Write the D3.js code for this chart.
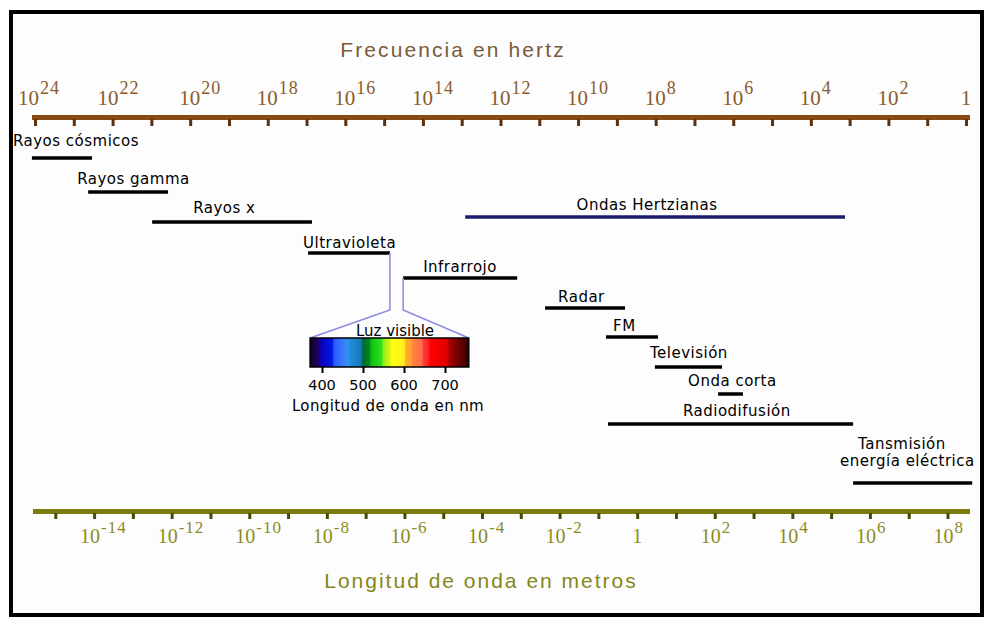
<!DOCTYPE html>
<html>
<head>
<meta charset="utf-8">
<script src="https://cdn.jsdelivr.net/npm/d3@7"></script>
<style>
  body { margin: 0; background: #fff; }
  svg { display: block; }
  .band { font-family: "DejaVu Sans", sans-serif; font-size: 15px; letter-spacing: 0.5px; fill: #000; }
  .small { font-family: "DejaVu Sans", sans-serif; font-size: 14.5px; fill: #000; }
  .expo { font-family: "Liberation Serif", serif; }
</style>
</head>
<body>
<div id="chart"></div>
<script>
// Frequency axis, in log10 of hertz
let freqTicks = [24, 23, 22, 21, 20, 19, 18, 17, 16, 15, 14, 13, 12, 11, 10, 9, 8, 7, 6, 5, 4, 3, 2, 1, 0];
let freqLabels = [24, 22, 20, 18, 16, 14, 12, 10, 8, 6, 4, 2, 0];

// Wavelength axis, in log10 of metres
let waveTicks = [-15, -14, -13, -12, -11, -10, -9, -8, -7, -6, -5, -4, -3, -2, -1, 0, 1, 2, 3, 4, 5, 6, 7, 8];
let waveLabels = [-14, -12, -10, -8, -6, -4, -2, 0, 2, 4, 6, 8];

// Bands of the spectrum, from / to in log10 Hz
let bandNames = ["Rayos cósmicos", "Rayos gamma", "Rayos x", "Ultravioleta", "Infrarrojo",
    "Ondas Hertzianas", "Radar", "FM", "Televisión", "Onda corta", "Radiodifusión",
    "Tansmisión|energía eléctrica"];
let bandFrom = [24.08, 22.63, 20.98, 16.96, 14.51, 12.91, 10.85, 9.28, 8.02, 6.39, 9.23, 2.91];
let bandTo = [22.53, 20.57, 16.86, 14.85, 11.57, 3.12, 8.79, 7.94, 6.29, 5.75, 2.91, -0.16];

// Visible light inset, in nm
let visibleTicks = [400, 500, 600, 700];
let visibleRange = [371, 758];
let spectrumNm = [371, 390, 396, 425, 430, 462, 468, 495, 500, 516, 520, 545, 550, 565, 570, 600, 605, 618, 622, 643, 647, 660, 665, 705, 712, 740, 758];
let spectrumColors = ["#14002a", "#200060", "#0a00b0", "#0018f0", "#2a5cff", "#3c8cf8", "#1e90d8", "#1878b8",
    "#006a30", "#008a20", "#10c010", "#30e020", "#90f010", "#d8f020", "#ffff10", "#ffee20",
    "#ffb020", "#ffa030", "#ff8040", "#ff7048", "#ff4040", "#ff2020", "#ff0000", "#e00000",
    "#a00000", "#600000", "#300000"];

// Layout of each band: bar row, label offset and baseline offset
let barRows = [158, 192, 222, 253, 278, 217, 308, 337, 367, 394, 424, 483];
let labelDx = [-19, -11, 41, -5, 20, 0, 13, 7, -5, -30, 75, 5];
let labelDy = [-12, -8, -9, -5, -6, -7, -6, -6, -9, -8, -8, -34];

let width = 984,
    height = 617;

let svg = d3.select("#chart").append("svg")
    .attr("width", width)
    .attr("height", height);

// Outer frame
svg.append("rect")
    .attr("x", 11).attr("y", 12)
    .attr("width", 971).attr("height", 603)
    .attr("fill", "#fdfdfd")
    .attr("stroke", "#000")
    .attr("stroke-width", 4);

// Scales: frequency (log10 Hz) and wavelength (log10 m) share the same pixels
let fx = d3.scaleLinear().domain([24, 0]).range([35, 966]);
let logC = Math.log10(2.998e8);
let wx = d3.scaleLinear().domain([logC - 24, logC]).range([35, 966]);

// ---- Top axis ----
let brown = "#8a4a14";
svg.append("text")
    .attr("x", 453).attr("y", 57)
    .attr("text-anchor", "middle")
    .style("font-family", "Liberation Sans, sans-serif")
    .style("font-size", "21px")
    .style("letter-spacing", "2.1px")
    .attr("fill", "#7a5a3a")
    .text("Frecuencia en hertz");

svg.append("line")
    .attr("x1", 32).attr("x2", 970)
    .attr("y1", 117.5).attr("y2", 117.5)
    .attr("stroke", brown)
    .attr("stroke-width", 5);

let topAxis = svg.append("g")
    .attr("transform", "translate(0,119)")
    .call(d3.axisBottom(fx).tickValues(freqTicks).tickSize(7).tickSizeOuter(0).tickFormat(""));
topAxis.select(".domain").remove();
topAxis.selectAll(".tick line").attr("stroke", "#5a3010").attr("stroke-width", 3);

let topLab = svg.selectAll(".flab")
    .data(freqLabels)
    .enter().append("text")
    .attr("class", "flab expo")
    .attr("x", function (d) {
        if (d === 0) return fx(d);
        return fx(d) - (d === 24 ? 17 : d === 22 ? 15 : 11);
    })
    .attr("y", 105)
    .attr("text-anchor", function (d) { return d === 0 ? "middle" : "start"; })
    .attr("fill", "#8b5a2b")
    .style("font-size", "21px");
topLab.append("tspan").text(function (d) { return d === 0 ? "1" : "10"; });
topLab.filter(function (d) { return d !== 0; })
    .append("tspan")
    .attr("dx", 1)
    .attr("dy", -11)
    .style("font-size", "18px")
    .style("letter-spacing", "1px")
    .text(function (d) { return d; });

// ---- Bottom axis ----
let olive = "#7c7c0c";
svg.append("line")
    .attr("x1", 33).attr("x2", 970)
    .attr("y1", 511.5).attr("y2", 511.5)
    .attr("stroke", olive)
    .attr("stroke-width", 5);

let botAxis = svg.append("g")
    .attr("transform", "translate(0,513)")
    .call(d3.axisBottom(wx).tickValues(waveTicks).tickSize(6).tickSizeOuter(0).tickFormat(""));
botAxis.select(".domain").remove();
botAxis.selectAll(".tick line").attr("stroke", "#4a4a08").attr("stroke-width", 3);

let botLab = svg.selectAll(".wlab")
    .data(waveLabels)
    .enter().append("text")
    .attr("class", "wlab expo")
    .attr("x", function (d) { return d === 0 ? wx(d) : wx(d) - 14; })
    .attr("y", 543)
    .attr("text-anchor", function (d) { return d === 0 ? "middle" : "start"; })
    .attr("fill", "#8c8c1e")
    .style("font-size", "20px");
botLab.append("tspan").text(function (d) { return d === 0 ? "1" : "10"; });
botLab.filter(function (d) { return d !== 0; })
    .append("tspan")
    .attr("dx", 1)
    .attr("dy", -10)
    .style("font-size", "17px")
    .style("letter-spacing", "1px")
    .text(function (d) { return d; });

svg.append("text")
    .attr("x", 481).attr("y", 588)
    .attr("text-anchor", "middle")
    .style("font-family", "Liberation Sans, sans-serif")
    .style("font-size", "21px")
    .style("letter-spacing", "2px")
    .attr("fill", "#86861a")
    .text("Longitud de onda en metros");

// ---- Bands ----
let bands = bandNames.map(function (name, i) {
    return { name: name, from: bandFrom[i], to: bandTo[i], y: barRows[i], dx: labelDx[i], dy: labelDy[i] };
});

svg.selectAll(".bar")
    .data(bands)
    .enter().append("line")
    .attr("class", "bar")
    .attr("x1", function (d) { return fx(d.from); })
    .attr("x2", function (d) { return fx(d.to); })
    .attr("y1", function (d) { return d.y; })
    .attr("y2", function (d) { return d.y; })
    .attr("stroke", function (d) { return d.name === "Ondas Hertzianas" ? "#1c1c6c" : "#000"; })
    .attr("stroke-width", 3.5);

let bandText = svg.selectAll(".blab")
    .data(bands)
    .enter().append("text")
    .attr("class", "blab band")
    .attr("fill", function (d) { return d.name === "Ondas Hertzianas" ? "#1c1c6c" : "#000"; })
    .attr("text-anchor", function (d) { return d.name === "Ondas Hertzianas" ? "middle" : "start"; })
    .attr("x", function (d) {
        if (d.name === "Ondas Hertzianas") return (fx(d.from) + fx(d.to)) / 2 - 8;
        return fx(d.from) + d.dx;
    })
    .attr("y", function (d) { return d.y + d.dy; });

bandText.each(function (d) {
    let parts = d.name.split("|");
    let t = d3.select(this);
    if (parts.length === 1) {
        t.text(parts[0]);
    } else {
        t.append("tspan").text(parts[0]);
        t.append("tspan")
            .attr("x", fx(d.from) - 13)
            .attr("dy", 17)
            .text(parts[1]);
    }
});

// ---- Visible light inset ----
let nx = d3.scaleLinear().domain([400, 700]).range([322, 445]);
let specTop = 338, specBottom = 367;

let grad = svg.append("defs").append("linearGradient")
    .attr("id", "spectrum")
    .attr("x1", "0%").attr("x2", "100%");
grad.selectAll("stop")
    .data(spectrumNm)
    .enter().append("stop")
    .attr("offset", function (d) { return (100 * (d - visibleRange[0]) / (visibleRange[1] - visibleRange[0])) + "%"; })
    .attr("stop-color", function (d, i) { return spectrumColors[i]; });

// connectors from Ultravioleta / Infrarrojo down to the spectrum
let uv = bands[3], ir = bands[4];
let connector = "#8a8ae0";
svg.append("path")
    .attr("d", "M" + fx(uv.to) + "," + uv.y + "V310L" + nx(visibleRange[0]) + "," + specTop)
    .attr("fill", "none").attr("stroke", connector).attr("stroke-width", 1.5);
svg.append("path")
    .attr("d", "M" + fx(ir.from) + "," + ir.y + "V310L" + nx(visibleRange[1]) + "," + specTop)
    .attr("fill", "none").attr("stroke", connector).attr("stroke-width", 1.5);

svg.append("rect")
    .attr("x", nx(visibleRange[0]))
    .attr("y", specTop)
    .attr("width", nx(visibleRange[1]) - nx(visibleRange[0]))
    .attr("height", specBottom - specTop)
    .attr("fill", "url(#spectrum)")
    .attr("stroke", "#000")
    .attr("stroke-width", 1.5);

svg.append("g")
    .attr("transform", "translate(0," + specBottom + ")")
    .call(d3.axisBottom(nx).tickValues(visibleTicks).tickSize(6).tickSizeOuter(0).tickFormat(""))
    .call(function (g) { g.select(".domain").remove(); })
    .selectAll(".tick line").attr("stroke", "#000").attr("stroke-width", 2);

svg.selectAll(".nmlab")
    .data(visibleTicks)
    .enter().append("text")
    .attr("class", "nmlab small")
    .attr("x", function (d) { return nx(d); })
    .attr("y", 390)
    .attr("text-anchor", "middle")
    .text(function (d) { return d; });

svg.append("text")
    .attr("class", "small")
    .attr("x", 395).attr("y", 336)
    .attr("text-anchor", "middle")
    .style("font-size", "15px")
    .text("Luz visible");

svg.append("text")
    .attr("class", "small")
    .attr("x", 388).attr("y", 411)
    .attr("text-anchor", "middle")
    .style("font-size", "15px")
    .style("letter-spacing", "0.4px")
    .text("Longitud de onda en nm");
</script>
</body>
</html>
